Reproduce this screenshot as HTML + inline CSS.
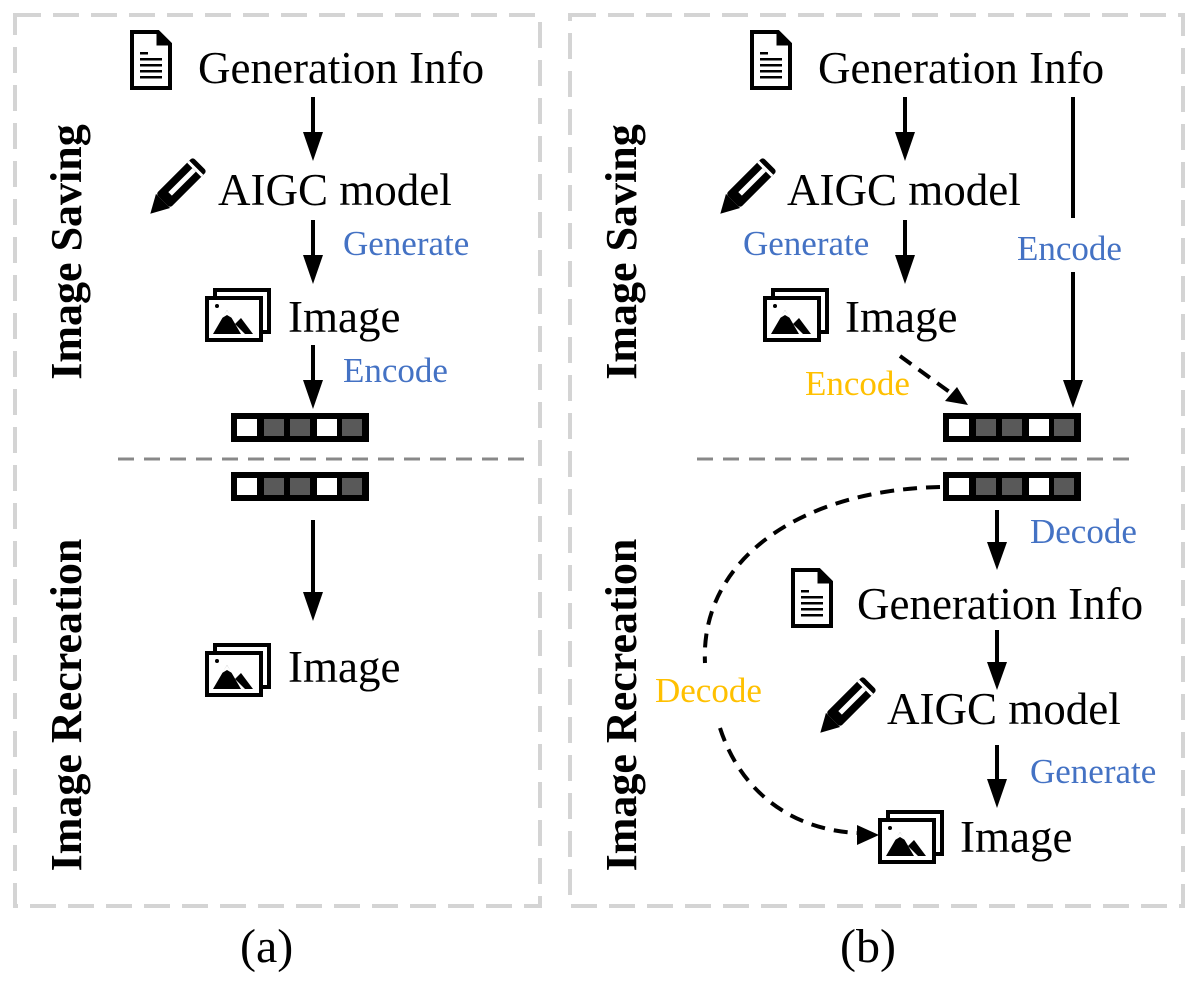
<!DOCTYPE html>
<html><head><meta charset="utf-8"><style>
html,body{margin:0;padding:0;background:#fff;}
svg{display:block;}
text{font-family:"Liberation Serif",serif;}
.t{font-size:45px;fill:#000;}
.b{font-size:35px;fill:#4472c4;}
.y{font-size:35px;fill:#ffc000;}
.r{font-size:44px;font-weight:bold;fill:#000;}
</style></head><body>
<svg width="1196" height="989" viewBox="0 0 1196 989" xmlns="http://www.w3.org/2000/svg">
<defs>
<g id="doc">
<path d="M2 2 H28 L40 14 V58 H2 Z" fill="#fff" stroke="#000" stroke-width="4"/>
<path d="M28 2 V14 H40" fill="#000" stroke="#000" stroke-width="3"/>
<rect x="10" y="22" width="8" height="2.5"/>
<rect x="10" y="28" width="22" height="2.5"/>
<rect x="10" y="34" width="22" height="2.5"/>
<rect x="10" y="40" width="22" height="2.5"/>
<rect x="10" y="46" width="22" height="2.5"/>
</g>
<g id="pen">
<g transform="translate(32,26) rotate(-45)">
<rect x="-24" y="-10" width="52" height="20" rx="3" fill="#000"/>
<rect x="-14" y="-2.5" width="34" height="5" fill="#fff"/>
<path d="M-24 -10 L-42 0 L-24 10 Z" fill="#000"/>
<rect x="20" y="-10" width="3" height="20" fill="#fff"/>
</g>
</g>
<g id="img">
<rect x="10" y="2" width="54" height="42" fill="#fff" stroke="#000" stroke-width="4"/>
<rect x="2" y="10" width="54" height="42" fill="#fff" stroke="#000" stroke-width="4"/>
<path d="M8 46 L22 22 L36 46 Z" fill="#000"/>
<path d="M17 30 L22 22 L27 30 L22 27 Z" fill="#fff"/>
<path d="M30 36 L36 30 L48 46 L40 46 Z" fill="#000"/>
<circle cx="12" cy="18" r="2"/>
</g>
<g id="bar">
<rect x="0" y="0" width="138" height="29" fill="#000"/>
<rect x="6" y="6" width="20" height="17" fill="#fff"/>
<rect x="33" y="6" width="20" height="17" fill="#595959"/>
<rect x="59" y="6" width="20" height="17" fill="#595959"/>
<rect x="86" y="6" width="20" height="17" fill="#fff"/>
<rect x="111" y="6" width="20" height="17" fill="#595959"/>
</g>
</defs>

<rect x="15" y="15" width="525" height="891" fill="none" stroke="#d4d4d4" stroke-width="4" stroke-dasharray="26 12"/>
<rect x="570" y="15" width="613" height="891" fill="none" stroke="#d4d4d4" stroke-width="4" stroke-dasharray="26 12"/>

<line x1="118" y1="459" x2="532" y2="459" stroke="#888" stroke-width="3" stroke-dasharray="16 10"/>
<line x1="697" y1="459" x2="1136" y2="459" stroke="#888" stroke-width="3" stroke-dasharray="16 10"/>

<text class="r" transform="translate(81,252) rotate(-90)" text-anchor="middle">Image Saving</text>
<text class="r" transform="translate(81,705) rotate(-90)" text-anchor="middle">Image Recreation</text>
<text class="r" transform="translate(636,252) rotate(-90)" text-anchor="middle">Image Saving</text>
<text class="r" transform="translate(636,705) rotate(-90)" text-anchor="middle">Image Recreation</text>

<!-- panel a -->
<use href="#doc" x="130" y="30"/>
<text class="t" x="198" y="83">Generation Info</text>
<g stroke="#000" stroke-width="4">
<line x1="313" y1="97" x2="313" y2="135"/><path d="M303 132 L323 132 L313 161 Z" stroke="none"/>
<line x1="313" y1="220" x2="313" y2="258"/><path d="M303 255 L323 255 L313 284 Z" stroke="none"/>
<line x1="313" y1="345" x2="313" y2="383"/><path d="M303 380 L323 380 L313 409 Z" stroke="none"/>
<line x1="313" y1="520" x2="313" y2="595"/><path d="M303 592 L323 592 L313 621 Z" stroke="none"/>
</g>
<use href="#pen" x="148" y="158"/>
<text class="t" x="218" y="205">AIGC model</text>
<text class="b" x="343" y="255">Generate</text>
<use href="#img" x="205" y="288"/>
<text class="t" x="288" y="332">Image</text>
<text class="b" x="343" y="382">Encode</text>
<use href="#bar" x="231" y="413"/>
<use href="#bar" x="231" y="472"/>
<use href="#img" x="205" y="643"/>
<text class="t" x="288" y="682">Image</text>
<text class="t" x="240" y="962" style="font-size:48px">(a)</text>

<!-- panel b -->
<use href="#doc" x="750" y="30"/>
<text class="t" x="818" y="83">Generation Info</text>
<use href="#pen" x="718" y="158"/>
<text class="t" x="787" y="205">AIGC model</text>
<text class="b" x="743" y="255">Generate</text>
<use href="#img" x="763" y="288"/>
<text class="t" x="845" y="332">Image</text>
<g stroke="#000" stroke-width="4">
<line x1="905" y1="97" x2="905" y2="135"/><path d="M895 132 L915 132 L905 161 Z" stroke="none"/>
<line x1="905" y1="220" x2="905" y2="258"/><path d="M895 255 L915 255 L905 284 Z" stroke="none"/>
<line x1="1073" y1="97" x2="1073" y2="218"/>
<line x1="1073" y1="272" x2="1073" y2="383"/><path d="M1063 380 L1083 380 L1073 408 Z" stroke="none"/>
<line x1="997" y1="510" x2="997" y2="545"/><path d="M987 542 L1007 542 L997 570 Z" stroke="none"/>
<line x1="997" y1="630" x2="997" y2="665"/><path d="M987 662 L1007 662 L997 690 Z" stroke="none"/>
<line x1="997" y1="745" x2="997" y2="782"/><path d="M987 779 L1007 779 L997 808 Z" stroke="none"/>
</g>
<text class="b" x="1017" y="260">Encode</text>
<line x1="900" y1="356" x2="955" y2="396" stroke="#000" stroke-width="4" stroke-dasharray="14 9"/>
<path d="M968 405 L945 401 L957 387 Z" fill="#000"/>
<text class="y" x="805" y="395">Encode</text>
<use href="#bar" x="943" y="413"/>
<use href="#bar" x="943" y="472"/>
<path d="M940 487 C 800 490, 700 560, 705 663" fill="none" stroke="#000" stroke-width="4" stroke-dasharray="14 9"/>
<path d="M720 728 C 740 790, 790 830, 858 833" fill="none" stroke="#000" stroke-width="4" stroke-dasharray="14 9"/>
<path d="M879 835 L857 825 L857 845 Z" fill="#000"/>
<text class="y" x="655" y="702">Decode</text>
<text class="b" x="1030" y="543">Decode</text>
<use href="#doc" x="791" y="568"/>
<text class="t" x="857" y="619">Generation Info</text>
<use href="#pen" x="818" y="677"/>
<text class="t" x="887" y="724">AIGC model</text>
<text class="b" x="1030" y="783">Generate</text>
<use href="#img" x="878" y="810"/>
<text class="t" x="960" y="852">Image</text>
<text class="t" x="840" y="962" style="font-size:48px">(b)</text>
</svg>
</body></html>
